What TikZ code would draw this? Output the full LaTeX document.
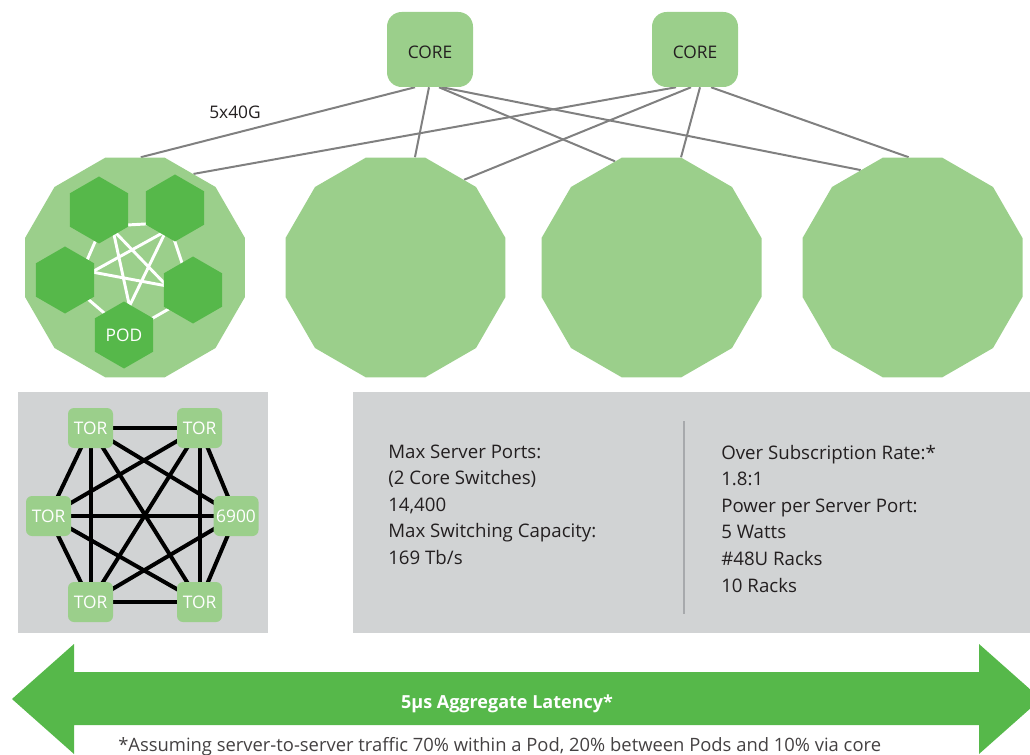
\documentclass[tikz,border=0pt]{standalone}
\usepackage{fontspec}
\setmainfont{Open Sans}
\usetikzlibrary{shapes.geometric,calc}
\definecolor{lgreen}{HTML}{9BCF8B}
\definecolor{dgreen}{HTML}{56B84A}
\definecolor{boxgray}{HTML}{D1D3D4}
\definecolor{linegray}{HTML}{808080}
\definecolor{divgray}{HTML}{A7A9AC}
\definecolor{txt}{HTML}{231F20}
\pgfdeclarelayer{links}
\pgfdeclarelayer{pods}
\pgfdeclarelayer{mesh}
\pgfsetlayers{links,pods,mesh,main}
\begin{document}
\begin{tikzpicture}[x=0.75pt,y=-0.75pt,
  lbl/.style={font=\fontsize{13}{16}\selectfont,text=txt,inner sep=0pt},
  corebox/.style={fill=lgreen,rounded corners=11pt,minimum width=64.5pt,minimum height=56.25pt,inner sep=0pt,text height=14pt,text depth=0pt,font=\fontsize{13}{16}\selectfont,text=txt},
  podshape/.style={regular polygon,regular polygon sides=12,fill=lgreen,minimum size=170.8pt,inner sep=0pt},
  hexshape/.style={regular polygon,regular polygon sides=6,shape border rotate=30,fill=dgreen,minimum size=50.25pt,inner sep=0pt,text=white,font=\fontsize{13}{16}\selectfont},
  torbox/.style={fill=lgreen,rounded corners=4.5pt,minimum width=33.75pt,minimum height=30pt,inner sep=0pt,text=white,font=\fontsize{13}{16}\selectfont},
  uplink/.style={draw=linegray,line width=1.5pt},
  podmesh/.style={draw=white,line width=2.2pt},
  tormesh/.style={draw=black,line width=3pt},
  infotext/.style={lbl,font=\fontsize{14}{16}\selectfont,anchor=base west}]
\clip (0,0) rectangle (1030,755);

% pods and grey panels
\begin{pgfonlayer}{pods}
  \fill[boxgray] (18,392) rectangle (268,633);
  \fill[boxgray] (353,392) rectangle (1030,633);
  \node[podshape] (pod1) at (135,267.5) {};
  \node[podshape] (pod2) at (395.5,267.5) {};
  \node[podshape] (pod3) at (651.5,267.5) {};
  \node[podshape] (pod4) at (912.5,267.5) {};
\end{pgfonlayer}

% core switches
\node[corebox] (core1) at (430,49.5) {CORE};
\node[corebox] (core2) at (695,49.5) {CORE};
\node[lbl] (bw) at (235,112) {5x40G};

% uplinks
\begin{pgfonlayer}{links}
  \draw[uplink] ($(core1.south)+(-15,0)$) -- (pod1.87);
  \draw[uplink] ($(core1.south)+(-1,0)$) -- (pod2.80);
  \draw[uplink] ($(core1.south)+(9,0)$) -- (pod3.109);
  \draw[uplink] ($(core1.south)+(12,0)$) -- (pod4.118);
  \draw[uplink] ($(core2.south)+(-19,0)$) -- (pod1.58);
  \draw[uplink] ($(core2.south)+(-4,0)$) -- (pod2.52);
  \draw[uplink] ($(core2.south)+(5,0)$) -- (pod3.75);
  \draw[uplink] ($(core2.south)+(16,0)$) -- (pod4.92);
\end{pgfonlayer}

% hexagons inside the first pod
\node[hexshape] (h1) at (99,210) {};
\node[hexshape] (h2) at (175,208) {};
\node[hexshape] (h3) at (193,290) {};
\node[hexshape] (h4) at (124,335) {POD};
\node[hexshape] (h5) at (65,280) {};

\coordinate (v1) at (101.8,226.4);
\coordinate (v2) at (168.6,222.7);
\coordinate (v3) at (192.7,295.3);
\coordinate (v4) at (127.2,332.7);
\coordinate (v5) at (74.9,287.9);
\coordinate (sa) at (113,230);
\coordinate (sb) at (166,231);
\coordinate (sc) at (92,272);
\coordinate (sd) at (167,286);
\coordinate (se) at (129.5,306);
\begin{pgfonlayer}{mesh}
  \draw[podmesh] (v1) -- (v2) -- (v3) -- (v4) -- (v5) -- cycle;
  \draw[podmesh] (sa) -- (sd);
  \draw[podmesh] (sa) -- (se);
  \draw[podmesh] (sb) -- (sc);
  \draw[podmesh] (sb) -- (se);
  \draw[podmesh] (sc) -- (sd);
\end{pgfonlayer}

% TOR full mesh
\node[torbox] (t1) at (90.5,428) {TOR};
\node[torbox] (t2) at (199.5,428) {TOR};
\node[torbox] (t3) at (48.5,516) {TOR};
\node[torbox] (t4) at (236,516) {6900};
\node[torbox] (t5) at (90.5,602) {TOR};
\node[torbox] (t6) at (199.5,602) {TOR};
\begin{pgfonlayer}{mesh}
  \foreach \a/\b in {t1/t2,t1/t3,t1/t4,t1/t5,t1/t6,t2/t3,t2/t4,t2/t5,t2/t6,t3/t4,t3/t5,t3/t6,t4/t5,t4/t6,t5/t6}
    \draw[tormesh] (\a.center) -- (\b.center);
\end{pgfonlayer}

% info panel
\draw[divgray,line width=1.5pt] (684,421) -- (684,614);
\foreach \t [count=\i from 0] in {Max Server Ports:,(2 Core Switches),{14,400},Max Switching Capacity:,169 Tb/s}
  \node[infotext] (l\i) at (388,458+26.5*\i) {\t};
\foreach \t [count=\i from 0] in {Over Subscription Rate:*,1.8:1,Power per Server Port:,5 Watts,\#48U Racks,10 Racks}
  \node[infotext] (r\i) at (721,459+26.6*\i) {\t};

% latency arrow
\fill[dgreen] (12,699) -- (74,644) -- (74,672) -- (979,672) -- (979,644) -- (1041,699)
  -- (979,754) -- (979,725) -- (74,725) -- (74,754) -- cycle;
\node[lbl,text=white,font=\fontsize{13.5}{16}\selectfont\bfseries,anchor=base] (lat) at (507,708) {5µs Aggregate Latency*};
\node[lbl,text=txt!85,font=\fontsize{13.8}{16}\selectfont,anchor=base west] (note) at (118,751) {*Assuming server-to-server traffic 70\% within a Pod, 20\% between Pods and 10\% via core};
\end{tikzpicture}
\end{document}
